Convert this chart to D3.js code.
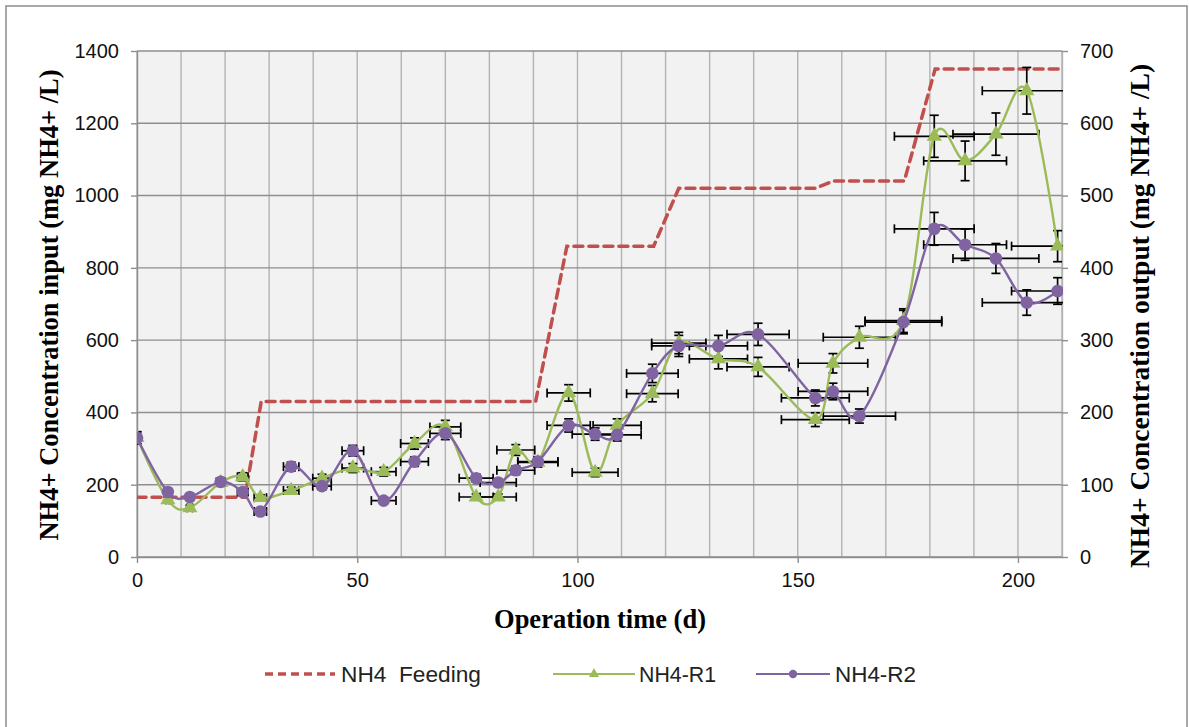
<!DOCTYPE html>
<html>
<head>
<meta charset="utf-8">
<script src="https://cdn.jsdelivr.net/npm/d3@7"></script>
<style>
  html, body { margin: 0; padding: 0; background: #fff; }
  svg { display: block; }
</style>
</head>
<body>
<svg id="chart" width="1189" height="727"></svg>
<script>
// ---------------- data ----------------
const feedDays   = [0, 24.5, 28.2, 90.5, 97.6, 117.3, 123, 154, 158, 174.2, 181.2, 210];
const feedValues = [165, 165, 430, 430, 860, 860, 1020, 1020, 1040, 1040, 1350, 1350];

const days = [0, 7, 12, 19, 24, 28, 35, 42, 49, 56, 63, 70, 77, 82, 86, 91,
              98, 104, 109, 117, 123, 132, 141, 154, 158, 164, 174, 181, 188, 195, 202, 209];
const r1Values = [165, 79, 68, 103, 111, 82, 92, 109, 123, 118, 157, 180, 83, 83, 148, 131,
                  227, 117, 182, 226, 296, 274, 263, 190, 268, 304, 327, 582, 548, 585, 645, 430];
const r2Values = [165, 90, 83, 104, 90, 63, 125, 98, 147, 78, 132, 171, 109, 103, 120, 132,
                  182, 170, 169, 254, 292, 292, 308, 220, 229, 195, 325, 454, 432, 413, 352, 368];

const xTicks      = [0, 50, 100, 150, 200];
const xGridTicks  = [0, 10, 20, 30, 40, 50, 60, 70, 80, 90, 100, 110, 120, 130, 140, 150, 160, 170, 180, 190, 200, 210];
const yLeftTicks  = [0, 200, 400, 600, 800, 1000, 1200, 1400];
const yRightTicks = [0, 100, 200, 300, 400, 500, 600, 700];
const errorPercent = 0.05; // percentage error bars (x and y)

const legendLabels = ["NH4  Feeding", "NH4-R1", "NH4-R2"];
const xTitle = "Operation time (d)";
const yLeftTitle = "NH4+ Concentration input (mg NH4+ /L)";
const yRightTitle = "NH4+ Concentration output (mg NH4+ /L)";

// ---------------- layout ----------------
const plot = { left: 137, right: 1062, top: 51, bottom: 557 };
const colors = { feed: "#C0504D", r1: "#9BBB59", r2: "#8064A2" };

const svg = d3.select("#chart");

svg.append("rect").attr("x", 6).attr("y", 6).attr("width", 1181).attr("height", 740)
  .attr("fill", "#fff").attr("stroke", "#8c8c8c").attr("stroke-width", 1.5);

const x = d3.scaleLinear().domain([0, 210]).range([plot.left, plot.right]);
const yL = d3.scaleLinear().domain([0, 1400]).range([plot.bottom, plot.top]);
const yR = d3.scaleLinear().domain([0, 700]).range([plot.bottom, plot.top]);

// plot background
svg.append("rect").attr("x", plot.left).attr("y", plot.top)
  .attr("width", plot.right - plot.left).attr("height", plot.bottom - plot.top)
  .attr("fill", "#F2F2F2");

// vertical grid
svg.append("g").selectAll("line").data(xGridTicks).join("line")
  .attr("x1", d => x(d)).attr("x2", d => x(d))
  .attr("y1", plot.top).attr("y2", plot.bottom)
  .attr("stroke", "#b3b3b3").attr("stroke-width", 1.4);

// horizontal grid
svg.append("g").selectAll("line").data(yLeftTicks).join("line")
  .attr("x1", plot.left).attr("x2", plot.right)
  .attr("y1", d => yL(d)).attr("y2", d => yL(d))
  .attr("stroke", "#8e8e8e").attr("stroke-width", 1.4);

// axes
const tickFont = "Liberation Sans, Arial, sans-serif";
const fmt = d3.format("d");
const gx = svg.append("g").attr("transform", `translate(0,${plot.bottom})`)
  .call(d3.axisBottom(x).tickValues(xTicks).tickFormat(fmt).tickSize(6).tickPadding(10).tickSizeOuter(0));
const gyl = svg.append("g").attr("transform", `translate(${plot.left},0)`)
  .call(d3.axisLeft(yL).tickValues(yLeftTicks).tickFormat(fmt).tickSize(6).tickPadding(12).tickSizeOuter(0));
const gyr = svg.append("g").attr("transform", `translate(${plot.right},0)`)
  .call(d3.axisRight(yR).tickValues(yRightTicks).tickFormat(fmt).tickSize(6).tickPadding(12).tickSizeOuter(0));
[gx, gyl, gyr].forEach(g => {
  g.selectAll("text").attr("font-family", tickFont).attr("font-size", 20).attr("fill", "#111");
  g.selectAll("line").attr("stroke", "#8e8e8e").attr("stroke-width", 1.4);
  g.select(".domain").attr("stroke", "#8e8e8e").attr("stroke-width", 1.4);
});
gyr.select(".domain").attr("stroke", "#b3b3b3");

// clip
svg.append("clipPath").attr("id", "clip").append("rect")
  .attr("x", plot.left).attr("y", plot.top - 20)
  .attr("width", plot.right - plot.left + 1).attr("height", plot.bottom - plot.top + 40);

const layer = svg.append("g").attr("clip-path", "url(#clip)");

// feeding line
const feedData = feedDays.map((d, i) => [d, feedValues[i]]);
layer.append("path").datum(feedData)
  .attr("d", d3.line().x(d => x(d[0])).y(d => yL(d[1])))
  .attr("fill", "none").attr("stroke", colors.feed).attr("stroke-width", 3.5)
  .attr("stroke-dasharray", "9,6").attr("stroke-linecap", "round");

function series(values) { return days.map((d, i) => [d, values[i]]); }
const r1 = series(r1Values), r2 = series(r2Values);

function errorBars(data) {
  const g = layer.append("g").attr("stroke", "#000").attr("stroke-width", 1.7).attr("fill", "none");
  const cap = 4.5;
  data.forEach(([d, v]) => {
    const cx = x(d), cy = yR(v);
    const dx = d * errorPercent, dv = v * errorPercent;
    const x0 = x(d - dx), x1 = x(d + dx);
    const y0 = yR(v - dv), y1 = yR(v + dv);
    g.append("line").attr("x1", x0).attr("x2", x1).attr("y1", cy).attr("y2", cy);
    g.append("line").attr("x1", x0).attr("x2", x0).attr("y1", cy - cap).attr("y2", cy + cap);
    g.append("line").attr("x1", x1).attr("x2", x1).attr("y1", cy - cap).attr("y2", cy + cap);
    g.append("line").attr("x1", cx).attr("x2", cx).attr("y1", y0).attr("y2", y1);
    g.append("line").attr("x1", cx - cap).attr("x2", cx + cap).attr("y1", y0).attr("y2", y0);
    g.append("line").attr("x1", cx - cap).attr("x2", cx + cap).attr("y1", y1).attr("y2", y1);
  });
}
errorBars(r1);
errorBars(r2);

const smooth = d3.line().x(d => x(d[0])).y(d => yR(d[1])).curve(d3.curveCatmullRom.alpha(0));

const triangle = d3.symbol().type(d3.symbolTriangle).size(100);
const circle = d3.symbol().type(d3.symbolCircle).size(125);

function drawSeries(data, color, sym) {
  layer.append("path").datum(data).attr("d", smooth)
    .attr("fill", "none").attr("stroke", color).attr("stroke-width", 2.4);
  layer.append("g").selectAll("path").data(data).join("path")
    .attr("transform", d => `translate(${x(d[0])},${yR(d[1])})`)
    .attr("d", sym).attr("fill", color);
}
drawSeries(r1, colors.r1, triangle);
drawSeries(r2, colors.r2, circle);

// titles
const titleFont = "Liberation Serif, Times New Roman, serif";
svg.append("text").attr("x", 600).attr("y", 628)
  .attr("text-anchor", "middle").attr("font-family", titleFont).attr("font-weight", "bold")
  .attr("font-size", 26.5).attr("fill", "#000").text(xTitle);
svg.append("text").attr("transform", "translate(58,305) rotate(-90)")
  .attr("text-anchor", "middle").attr("font-family", titleFont).attr("font-weight", "bold")
  .attr("font-size", 26.5).attr("fill", "#000").text(yLeftTitle);
svg.append("text").attr("transform", "translate(1149,316) rotate(-90)")
  .attr("text-anchor", "middle").attr("font-family", titleFont).attr("font-weight", "bold")
  .attr("font-size", 27.5).attr("fill", "#000").text(yRightTitle);

// legend
const legendY = 674;
const legendFont = "Liberation Sans Narrow, Arial Narrow, Liberation Sans, sans-serif";
const lg = svg.append("g");
const items = [
  { x0: 265, x1: 335, tx: 341, tw: 140, color: colors.feed, dash: "8,5", sym: null, w: 3.5 },
  { x0: 553, x1: 635, tx: 639, tw: 77, color: colors.r1, dash: null, sym: d3.symbol().type(d3.symbolTriangle).size(45), w: 2 },
  { x0: 756, x1: 830, tx: 835, tw: 81, color: colors.r2, dash: null, sym: d3.symbol().type(d3.symbolCircle).size(55), w: 2 }
];
items.forEach((it, i) => {
  lg.append("line").attr("x1", it.x0).attr("x2", it.x1).attr("y1", legendY).attr("y2", legendY)
    .attr("stroke", it.color).attr("stroke-width", it.w)
    .attr("stroke-dasharray", it.dash).attr("stroke-linecap", it.dash ? "butt" : null);
  if (it.sym) {
    lg.append("path").attr("transform", `translate(${(it.x0 + it.x1) / 2},${legendY})`)
      .attr("d", it.sym).attr("fill", it.color);
  }
  lg.append("text").attr("x", it.tx).attr("y", legendY + 8)
    .attr("font-family", legendFont).attr("font-size", 22).attr("fill", "#222")
    .attr("textLength", it.tw).attr("lengthAdjust", "spacingAndGlyphs")
    .attr("xml:space", "preserve").style("white-space", "pre")
    .text(legendLabels[i]);
});
</script>
</body>
</html>
